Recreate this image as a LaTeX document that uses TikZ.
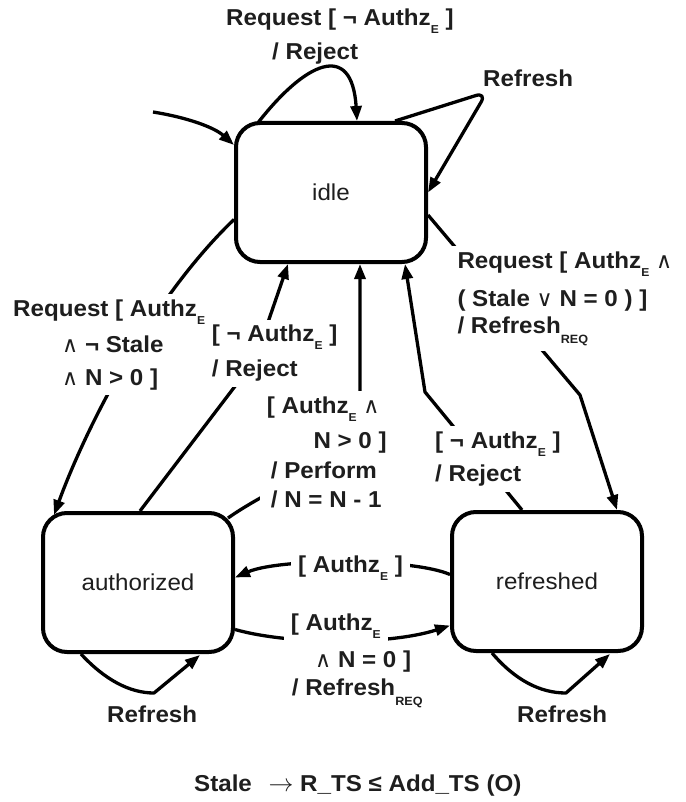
\documentclass[tikz,border=0pt]{standalone}
\usepackage{fontspec}
\setmainfont{Liberation Sans}[FakeStretch=1.05]
\newfontfamily\symfont{DejaVu Sans}
\usetikzlibrary{arrows.meta,calc,fit}
\pgfdeclarelayer{wires}
\pgfdeclarelayer{pads}
\pgfsetlayers{wires,pads,main}
\definecolor{ink}{HTML}{1E1E1E}
\newcommand\lblfont{\fontsize{23}{27}\selectfont\bfseries}
\newcommand\statefont{\fontsize{23}{27}\selectfont}
\newcommand\subE{\raisebox{-8pt}{\fontsize{11.5}{12}\selectfont E}}
\newcommand\subREQ{\raisebox{-10pt}{\fontsize{12}{12}\selectfont REQ}}
\newcommand\wedgesym{{\symfont\mdseries\fontsize{22}{22}\selectfont ∧}}
\newcommand\veesym{{\symfont\mdseries\fontsize{22}{22}\selectfont ∨}}
\begin{document}
\begin{tikzpicture}[x=1pt,y=-1pt,
  state/.style={draw=black, line width=4pt, rounded corners=24pt, fill=white,
    minimum width=190pt, minimum height=139pt, inner sep=0pt, font=\statefont, text=ink},
  lbl/.style={anchor=base west, inner sep=0pt, font=\lblfont, text=ink},
  pad/.style={fill=white, draw=none, inner xsep=7pt, inner ysep=5pt},
  wire/.style={line width=3.3pt, line join=round, -{Triangle[length=15pt,width=11pt]}}]
\useasboundingbox (0,0) rectangle (685,802);

% states
\node[state] (idle) at (331,192.5) {idle};
\node[state] (authorized) at (138,582.5) {authorized};
\node[state] (refreshed) at (547,581.5) {refreshed};

% transition labels
\node[lbl] (a1) at (226,26) {Request [ ¬ Authz\subE\ ]};
\node[lbl] (a2) at (272,60) {/ Reject};
\node[lbl] (r1) at (483,86.7) {Refresh};
\node[lbl] (b1) at (13,316) {Request [ Authz\subE};
\node[lbl] (b2) at (62,352.7) {\wedgesym\ ¬ Stale};
\node[lbl] (b3) at (62,385) {\wedgesym\ N > 0 ]};
\node[lbl] (c1) at (211.7,341.7) {[ ¬ Authz\subE\ ]};
\node[lbl] (c2) at (211.7,376.7) {/ Reject};
\node[lbl] (d1) at (266.7,413.3) {[ Authz\subE\ \wedgesym};
\node[lbl] (d2) at (313.3,448.3) {N > 0 ]};
\node[lbl] (d3) at (270.7,478.3) {/ Perform};
\node[lbl] (d4) at (270.7,507) {/ N = N - 1};
\node[lbl] (e1) at (457.3,268.3) {Request [ Authz\subE\ \wedgesym};
\node[lbl] (e2) at (457.3,306) {( Stale \veesym\ N = 0 ) ]};
\node[lbl] (e3) at (457.3,333.3) {/ Refresh\subREQ};
\node[lbl] (f1) at (435,448.3) {[ ¬ Authz\subE\ ]};
\node[lbl] (f2) at (435,481.7) {/ Reject};
\node[lbl] (g1) at (298,572) {[ Authz\subE\ ]};
\node[lbl] (h1) at (290.7,630.7) {[ Authz\subE};
\node[lbl] (h2) at (315,667.7) {\wedgesym\ N = 0 ]};
\node[lbl] (h3) at (291.7,695) {/ Refresh\subREQ};
\node[lbl] (r2) at (107,722) {Refresh};
\node[lbl] (r3) at (517,722) {Refresh};
\node[lbl, font=\fontsize{23}{27}\selectfont\bfseries] (note) at (194,791)
  {Stale\hspace{10pt} {\fontsize{26}{27}\selectfont$\rightarrow$} R\_TS ≤ Add\_TS (O)};

% white pads that interrupt the transition lines behind the labels
\begin{pgfonlayer}{pads}
  \node[pad, fit=(b1)(b2)(b3)] (padb) {};
  \node[pad, fit=(c1)(c2)] (padc) {};
  \node[pad, fit=(d1)(d2)(d3)(d4)] (padd) {};
  \node[pad, fit=(e1)(e2)(e3)] (pade) {};
  \node[pad, fit=(f1)(f2)] (padf) {};
  \node[pad, fit=(g1)] (padg) {};
  \node[pad, fit=(h1)] (padh) {};
\end{pgfonlayer}

% transitions
\begin{pgfonlayer}{wires}
  \coordinate (init) at (153,112);
  \draw[wire] (init) .. controls (190,118) and (215,128) .. ($(idle.north west)+(0,24)$);
  % idle self loops
  \draw[wire] ($(idle.north west)+(23,3)$) .. controls (305,62) and (352,40) .. ($(idle.north)+(26,0)$);
  \draw[wire, rounded corners=12pt] ($(idle.north)+(64,0)$) -- (487,92) -- (idle.east);
  % idle -> authorized
  \draw[wire] ($(idle.west)+(0,27)$) .. controls (150,300) and (85,430) .. ($(authorized.north west)+(13,4)$);
  % authorized -> idle
  \draw[wire] ($(authorized.north)+(2,0)$) -- (255,360) -- ($(idle.south)+(-43,0)$);
  \draw[wire] ($(authorized.north east)+(-7,7)$) .. controls (285,478) and (360,460) .. (360,400) -- ($(idle.south)+(29,0)$);
  % refreshed -> idle
  \draw[wire] ($(refreshed.north)+(-25,0)$) -- (425,392) -- ($(idle.south)+(74,0)$);
  % idle -> refreshed
  \draw[wire] ($(idle.east)+(0,22.5)$) -- (580,395) -- ($(refreshed.north east)+(-27,0)$);
  % between authorized and refreshed
  \draw[wire] ($(refreshed.west)+(0,-7)$) .. controls (412,558) and (280,558) .. ($(authorized.east)+(0,-5)$);
  \draw[wire] ($(authorized.east)+(0,47)$) .. controls (290,645) and (390,645) .. ($(refreshed.west)+(0,44)$);
  % refresh self loops below
  \draw[wire] ($(authorized.south)+(-57,0)$) .. controls (105,680) and (130,693) .. (154,693) -- ($(authorized.south)+(62,1)$);
  \draw[wire] ($(refreshed.south)+(-55,0)$) .. controls (515,680) and (540,693) .. (566,693) -- ($(refreshed.south)+(63,1)$);
\end{pgfonlayer}
\end{tikzpicture}
\end{document}
